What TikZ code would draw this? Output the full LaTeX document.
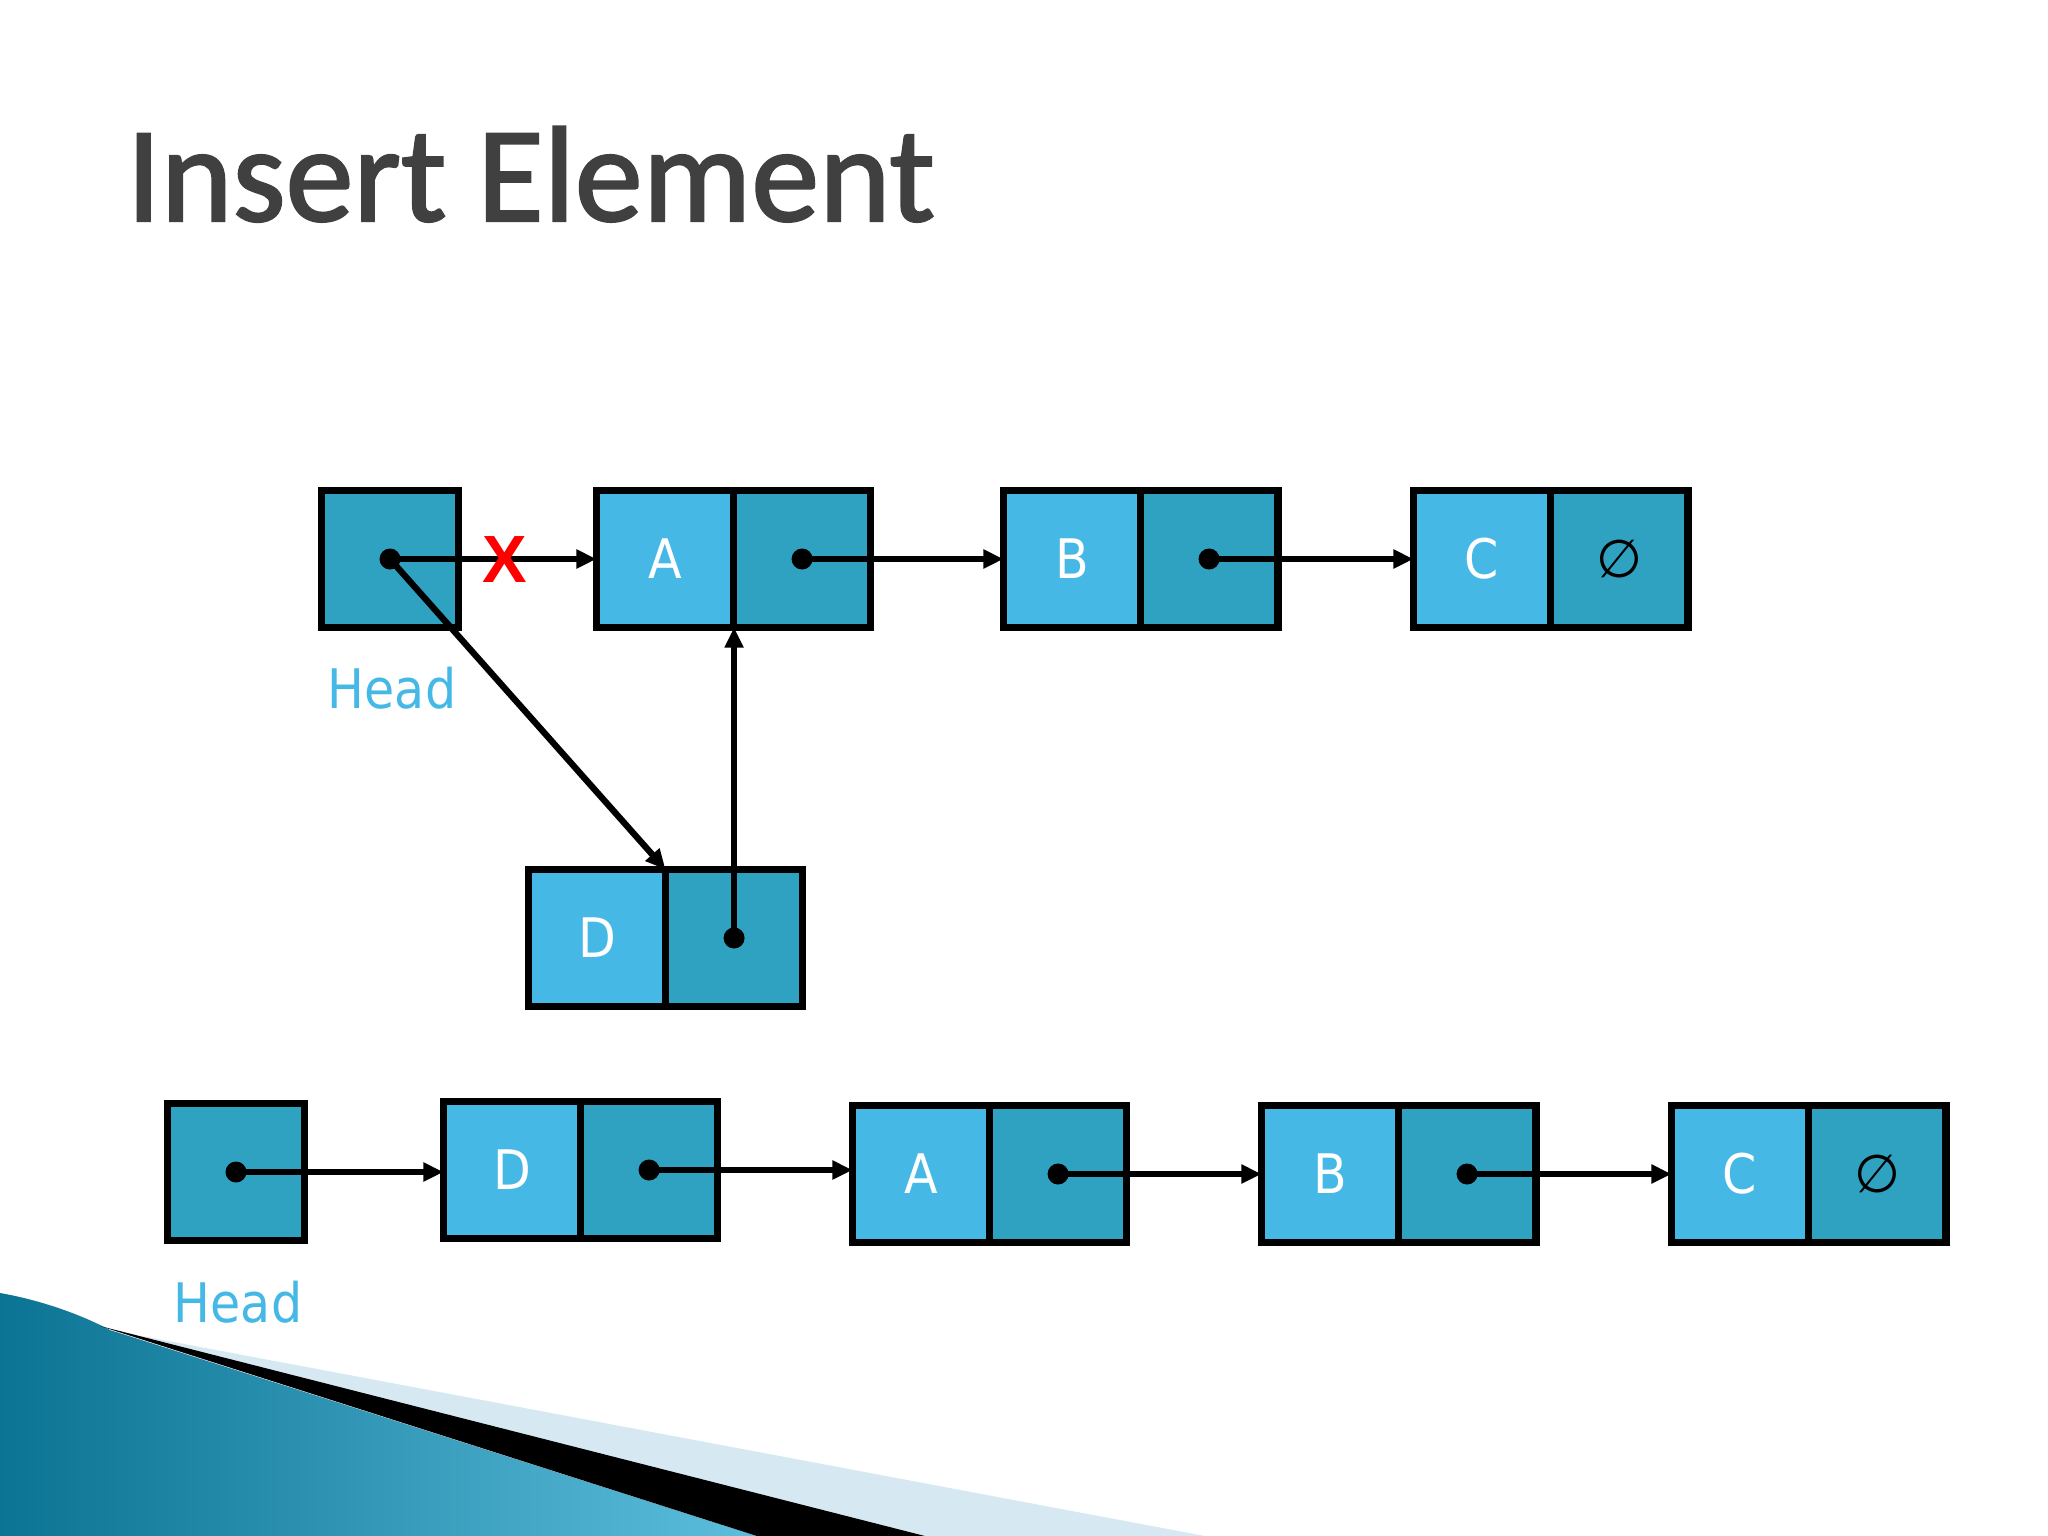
\documentclass[tikz,border=0pt]{standalone}
\usepackage{fontspec}
\usetikzlibrary{positioning, arrows.meta}

\newfontfamily\titlefont[FakeBold=1.6]{Carlito}
\newfontfamily\cellfont{DejaVu Sans Condensed}
\newfontfamily\symfont{DejaVu Sans}
\newfontfamily\crossfont{Liberation Sans}

\definecolor{celllight}{HTML}{45B8E6}
\definecolor{celldark}{HTML}{2EA2C0}
\definecolor{titlegray}{HTML}{404040}
\definecolor{swooshdark}{HTML}{0B7393}
\definecolor{swooshlight}{HTML}{5DBEDD}
\definecolor{swooshpale}{HTML}{D6E9F2}

\tikzset{
  cell/.style={draw=black, line width=2.2pt, fill=celllight, minimum size=1.37cm,
    inner sep=0pt, outer sep=0pt, text=white, font=\cellfont\fontsize{15.5}{18}\selectfont},
  ptrcell/.style={cell, fill=celldark},
  ptrdot/.style={circle, fill=black, inner sep=0pt, minimum size=0.21cm},
  link/.style={-{Triangle[length=0.2cm, width=0.18cm]}, line width=1.8pt},
  headlabel/.style={text=celllight, anchor=base, inner sep=0pt, font=\cellfont\fontsize{15.5}{18}\selectfont},
  nullmark/.style={font=\symfont\fontsize{15}{15}\selectfont}
}

\begin{document}
\begin{tikzpicture}[x=0.01cm, y=-0.01cm, >=stealth]
    \useasboundingbox (0,0) rectangle (2048,1536);

    % Corner swoosh
    \shade[left color=swooshdark, right color=swooshlight]
      (0,1293) .. controls (40,1300) and (80,1314) .. (110,1330) -- (757,1536) -- (0,1536) -- cycle;
    \fill[swooshpale] (110,1330) -- (1205,1536) -- (925,1536) -- cycle;
    \fill[black] (100,1326) -- (925,1536) -- (757,1536) -- cycle;

    % Title
    \node[anchor=base west, inner sep=0pt, text=titlegray, font=\titlefont\fontsize{38.7}{40}\selectfont]
      (title) at (126,221) {Insert Element};

    % Top list
    \node[ptrcell] (head1) at (390,559) {};
    \node[cell] (a1) at (665,559) {A};
    \node[ptrcell, right=0pt of a1] (a1-p) {};
    \node[cell] (b1) at (1072,559) {B};
    \node[ptrcell, right=0pt of b1] (b1-p) {};
    \node[cell] (c1) at (1482,559) {C};
    \node[ptrcell, right=0pt of c1] (c1-p) {};
    \node[nullmark] (null1) at (c1-p) {∅};
    \node[headlabel] (head1-lbl) at (392,708) {Head};

    % New element
    \node[cell] (d1) at (597,938) {D};
    \node[ptrcell, right=0pt of d1] (d1-p) {};

    % Pointers
    \foreach \p in {head1, a1-p, b1-p, d1-p}
      \node[ptrdot] (\p-dot) at (\p) {};
    \draw[link] (head1-dot.center) -- (a1.west);
    \draw[link] (a1-p-dot.center) -- (b1.west);
    \draw[link] (b1-p-dot.center) -- (c1.west);
    \draw[link] (head1-dot.center) -- (d1.north east);
    \draw[link] (d1-p-dot.center) -- (d1-p-dot.center |- a1.south);

    % Broken link
    \node[text=red, font=\crossfont\bfseries\fontsize{19}{20}\selectfont] (cut) at (505,560) {X};

    % Bottom list
    \node[ptrcell] (head2) at (236,1172) {};
    \node[cell] (d2) at (512,1170) {D};
    \node[ptrcell, right=0pt of d2] (d2-p) {};
    \node[cell] (a2) at (921,1174) {A};
    \node[ptrcell, right=0pt of a2] (a2-p) {};
    \node[cell] (b2) at (1330,1174) {B};
    \node[ptrcell, right=0pt of b2] (b2-p) {};
    \node[cell] (c2) at (1740,1174) {C};
    \node[ptrcell, right=0pt of c2] (c2-p) {};
    \node[nullmark] (null2) at (c2-p) {∅};
    \node[headlabel] (head2-lbl) at (238,1322) {Head};

    \foreach \p in {head2, d2-p, a2-p, b2-p}
      \node[ptrdot] (\p-dot) at (\p) {};
    \draw[link] (head2-dot.center) -- (head2-dot.center -| d2.west);
    \draw[link] (d2-p-dot.center) -- (d2-p-dot.center -| a2.west);
    \draw[link] (a2-p-dot.center) -- (a2-p-dot.center -| b2.west);
    \draw[link] (b2-p-dot.center) -- (b2-p-dot.center -| c2.west);
\end{tikzpicture}
\end{document}
